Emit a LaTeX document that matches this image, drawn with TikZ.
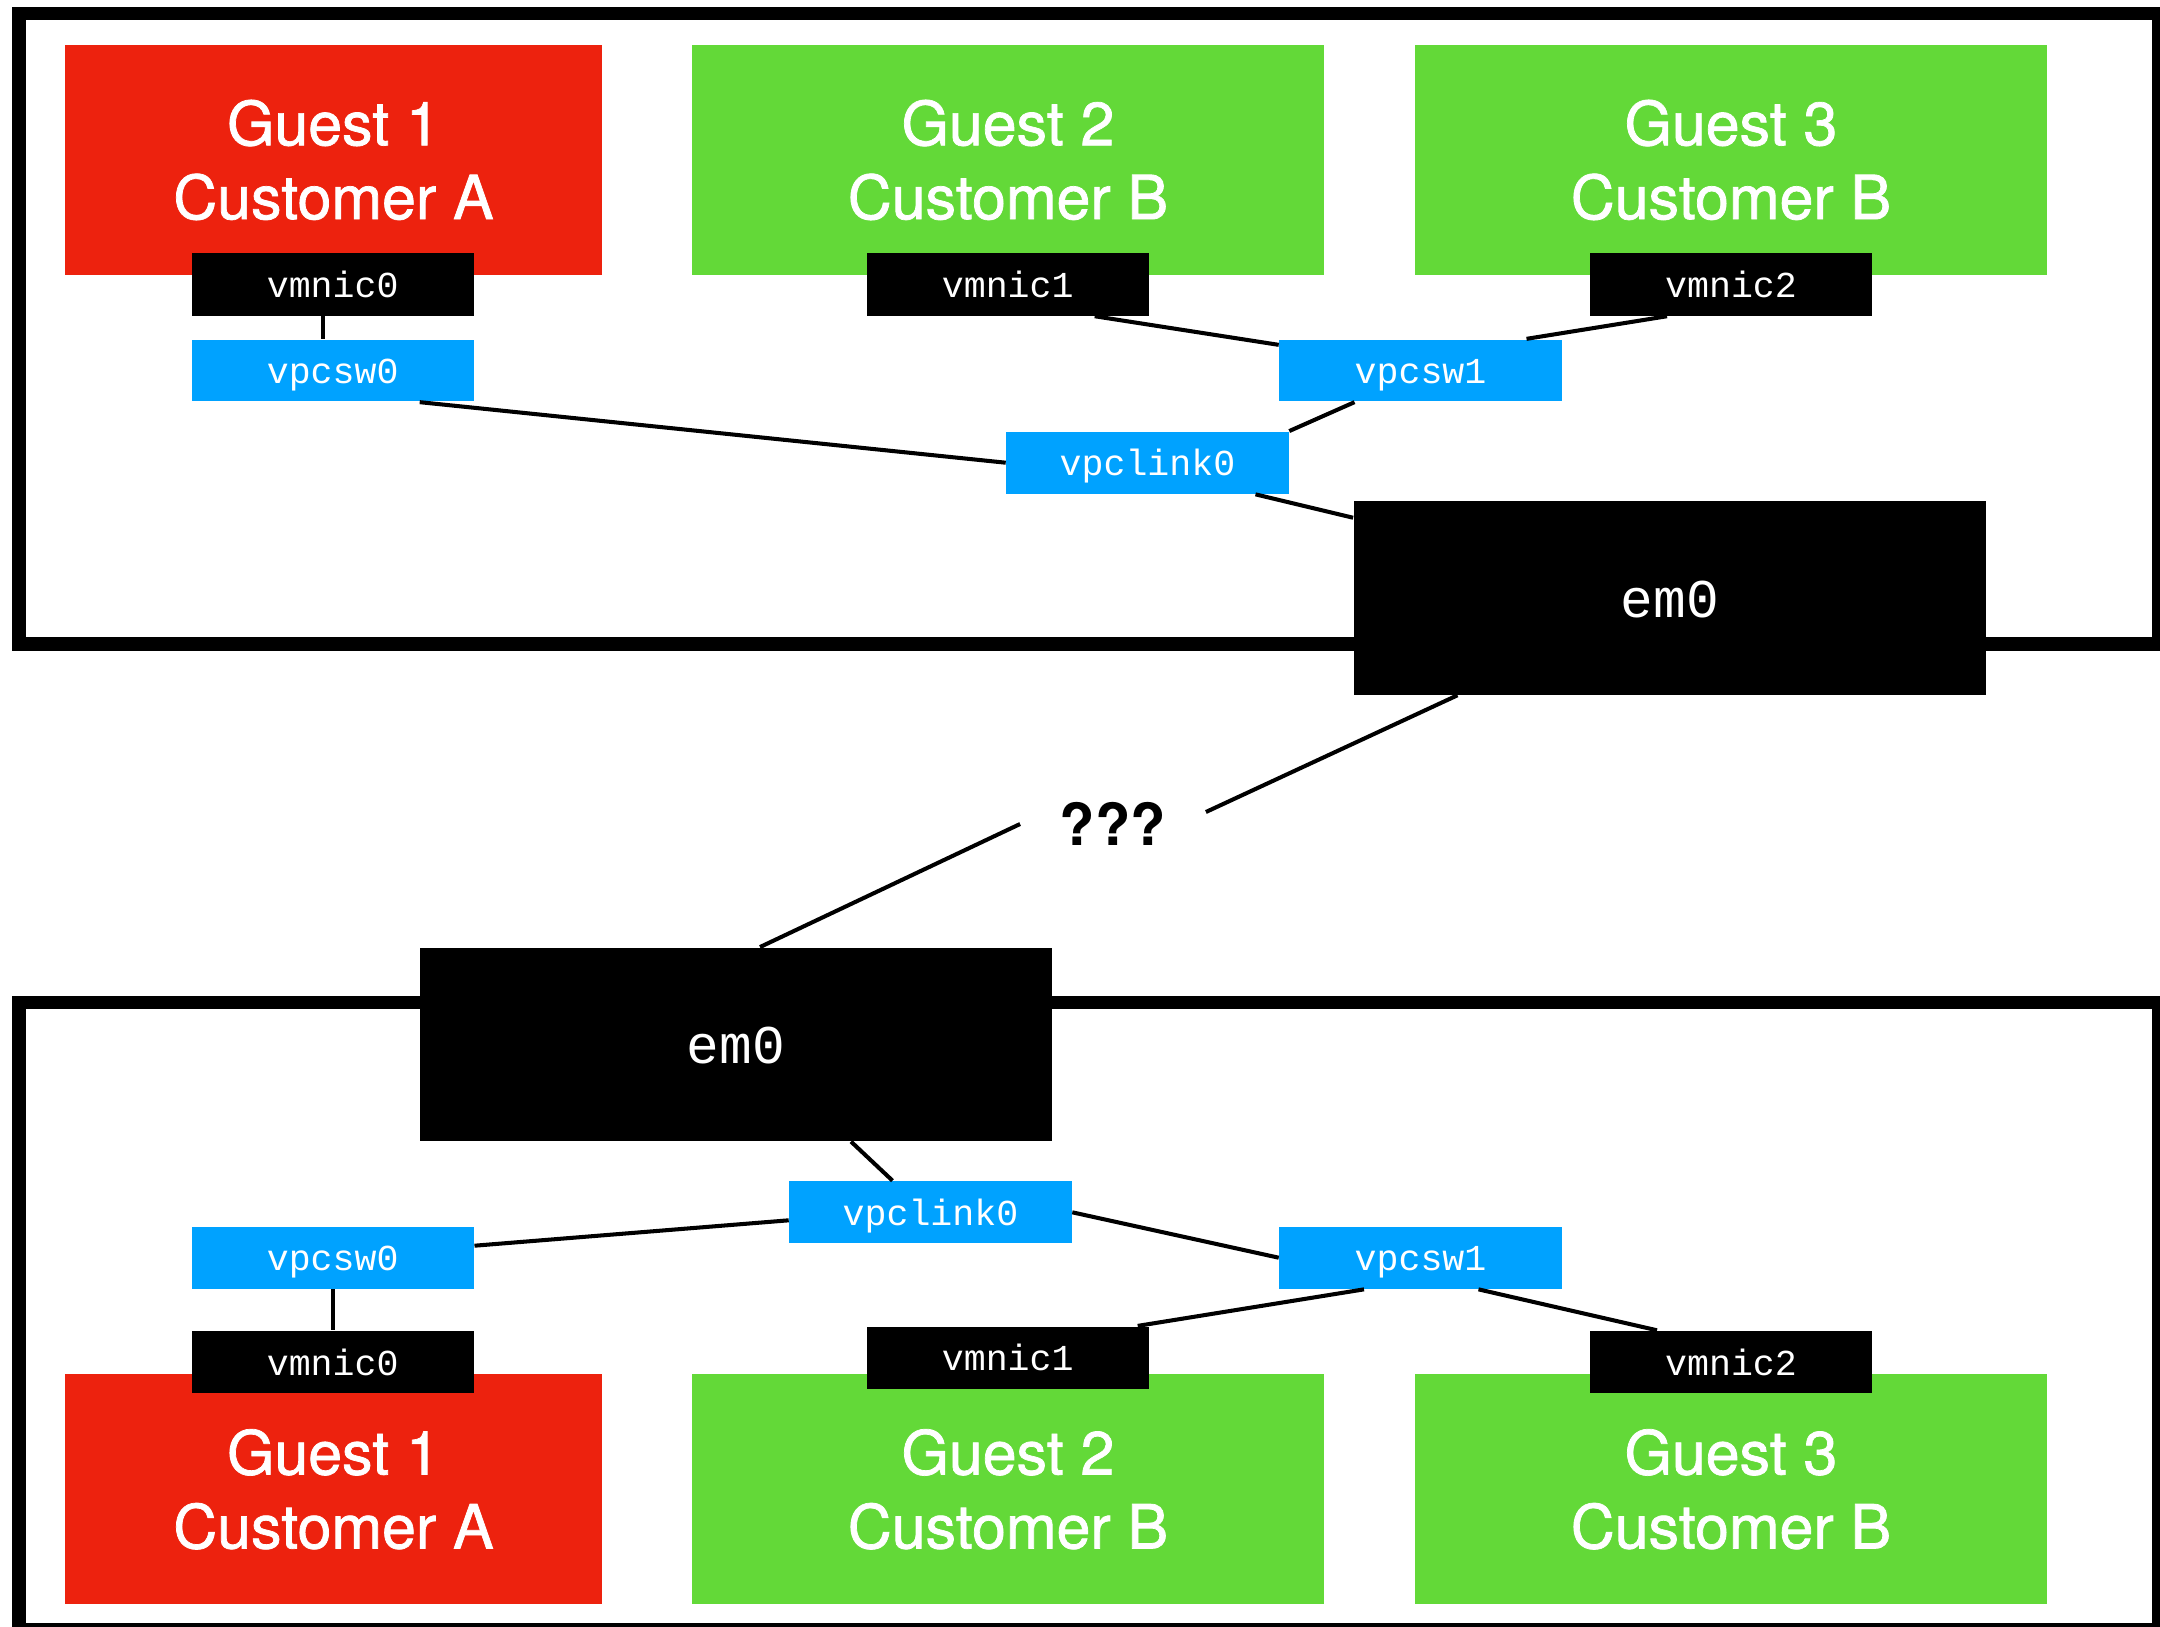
\documentclass[tikz,border=0pt]{standalone}
\usepackage{fontspec}
\setsansfont{TeX Gyre Heros}
\setmonofont{Liberation Mono}
\newfontfamily\guestfont{TeX Gyre Heros}[FakeBold=1.2]
\usepackage{xcolor}
\usepackage{tikz}
\usetikzlibrary{calc}
\definecolor{guestred}{RGB}{237,34,14}
\definecolor{guestgreen}{RGB}{99,217,56}
\definecolor{vpcblue}{RGB}{0,162,255}
\tikzset{guest node/.style={rectangle,fill=guestgreen,text=white,minimum width=6.32cm,minimum height=2.3cm,inner sep=0pt,align=center,font=\guestfont\fontsize{17.3}{21}\selectfont},
            red guest/.style={guest node,fill=guestred,minimum width=5.37cm},
            nic node/.style={rectangle,fill=black,text=white,minimum width=2.82cm,minimum height=0.62cm,inner sep=0pt,text height=12.5pt,text depth=5.1pt,font=\ttfamily\fontsize{10.4}{12}\selectfont},
            vpc node/.style={nic node,fill=vpcblue,minimum height=0.61cm},
            host node/.style={rectangle,fill=black,text=white,minimum width=6.32cm,minimum height=1.93cm,inner sep=0pt,text height=33pt,text depth=21.9pt,font=\ttfamily\fontsize{15.5}{18}\selectfont},
            wire/.style={line width=1.15pt},
            frame/.style={line width=3.8pt},
            }
\begin{document}
\begin{tikzpicture}[x=0.01cm,y=-0.01cm]
	\path[use as bounding box,clip] (0,0) rectangle (2160,1627);
	\draw[frame] (19,13.5) rectangle (2158.5,644);
	\draw[frame] (19,1002.5) rectangle (2158.5,1630);
	
	% upper host
	\node[red guest] (AG1) at (333.5,160) {Guest 1\\Customer A};
	\node[guest node] (AG2) at (1008,160) {Guest 2\\Customer B};
	\node[guest node] (AG3) at (1731,160) {Guest 3\\Customer B};
	\node[nic node] (AN0) at (332.7,284.5) {vmnic0};
	\node[nic node] (AN1) at (1007.7,284.5) {vmnic1};
	\node[nic node] (AN2) at (1731,284.5) {vmnic2};
	\node[vpc node] (AS0) at (332.7,370.5) {vpcsw0};
	\node[vpc node] (AS1) at (1420.5,370.5) {vpcsw1};
	\node[vpc node] (AL0) at (1147.5,462.7) {vpclink0};
	\node[host node] (AE) at (1670,598) {em0};
	
	\draw[wire] ($(AN0.south)+(-10,0)$) to ($(AS0.north)+(-10,0)$);
	\draw[wire] ($(AS0.south)+(87,0)$) to (AL0.west);
	\draw[wire] ($(AN1.south)+(87,0)$) to ($(AS1.north west)+(0,6)$);
	\draw[wire] ($(AN2.south)+(-64,0)$) to ($(AS1.north)+(106,0)$);
	\draw[wire] ($(AS1.south)+(-66,0)$) to (AL0.north east);
	\draw[wire] ($(AL0.south)+(108,0)$) to ($(AE.north west)+(0,17)$);
	
	% lower host
	\node[host node] (BE) at (736,1044.3) {em0};
	\node[vpc node] (BL0) at (930.5,1212.3) {vpclink0};
	\node[vpc node] (BS0) at (332.7,1257.7) {vpcsw0};
	\node[vpc node] (BS1) at (1420.5,1257.7) {vpcsw1};
	\node[red guest] (BG1) at (333.5,1489.3) {Guest 1\\Customer A};
	\node[guest node] (BG2) at (1008,1489.3) {Guest 2\\Customer B};
	\node[guest node] (BG3) at (1731,1489.3) {Guest 3\\Customer B};
	\node[nic node] (BN0) at (332.7,1362) {vmnic0};
	\node[nic node] (BN1) at (1007.7,1357.6) {vmnic1};
	\node[nic node] (BN2) at (1731,1362) {vmnic2};
	
	\draw[wire] ($(BE.south)+(115,0)$) to ($(BL0.north)+(-38,0)$);
	\draw[wire] ($(BL0.west)+(0,8)$) to ($(BS0.east)+(0,-12)$);
	\draw[wire] (BL0.east) to (BS1.west);
	\draw[wire] ($(BS1.south)+(-56.5,0)$) to ($(BN1.north)+(130,0)$);
	\draw[wire] ($(BS1.south)+(58,0)$) to ($(BN2.north)+(-74,0)$);
	\draw[wire] (BS0) to (BN0);
	
	% between the hosts
	\node[inner xsep=0.39cm,inner ysep=0pt,font=\sffamily\bfseries\fontsize{16.5}{18}\selectfont] (Q) at (1113,824) {???};
	\draw[wire] ($(AE.south)+(-212.5,0)$) to ($(Q.east)+(0,-12)$);
	\draw[wire] (Q.west) to ($(BE.north)+(24,0)$);
\end{tikzpicture}
\end{document}
